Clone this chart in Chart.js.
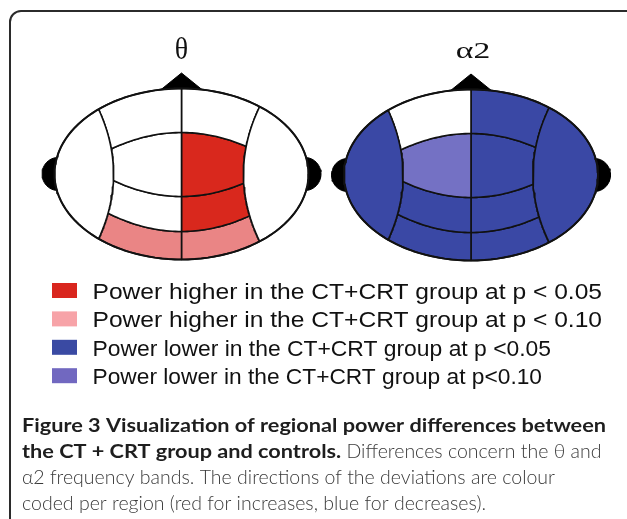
<!DOCTYPE html>
<html>
<head>
<meta charset="utf-8">
<script src="https://cdn.jsdelivr.net/npm/chart.js@4.4.1/dist/chart.umd.min.js"></script>
<style>
html, body { margin: 0; padding: 0; background: #fff; }
#wrap { width: 627px; height: 519px; }
</style>
</head>
<body>
<div id="wrap"><canvas id="fig" width="627" height="519"></canvas></div>
<script>
// scalp regions, left hemisphere first
const regions = ['L temporal', 'L frontal', 'L central', 'L parietal', 'L occipital',
                 'R temporal', 'R frontal', 'R central', 'R parietal', 'R occipital'];
// 2 = higher p<0.05, 1 = higher p<0.10, -2 = lower p<0.05, -1 = lower p<0.10, 0 = n.s.
const thetaLevels  = [0, 0, 0, 0, 1, 0, 0, 2, 2, 1];
const alpha2Levels = [-2, 0, -1, -2, -2, -2, -2, -2, -2, -2];
const bandTitles = ['θ', 'α2'];
const legendLabels = [
    'Power higher in the CT+CRT group at p < 0.05',
    'Power higher in the CT+CRT group at p < 0.10',
    'Power lower in the CT+CRT group at p <0.05',
    'Power lower in the CT+CRT group at p<0.10'
];
const legendSwatches = ['#d9261e', '#f7a3a8', '#3a4aa3', '#7168c0'];
const captionLines = [
    [{ t: 'Figure 3 Visualization of regional power differences between', b: true }],
    [{ t: 'the CT + CRT group and controls.', b: true }, { t: ' Differences concern the θ and', b: false }],
    [{ t: 'α2 frequency bands. The directions of the deviations are colour', b: false }],
    [{ t: 'coded per region (red for increases, blue for decreases).', b: false }]
];

const levelColors = { '2': '#d9281d', '1': '#ea8585', '0': '#ffffff', '-1': '#7471c4', '-2': '#3a48a5' };

// head outline geometry (canvas px, y down)
const A = 127, B = 85.5;
const heads = [{ cx: 181.5, cy: 174 }, { cx: 471, cy: 175 }];

function lateral(side, dy) {
    return side * ((side < 0 ? 68 : 62) + 15 * (dy / 65) ** 2);
}
const curves = {
    top: dx => -B * Math.sqrt(Math.max(0, 1 - (dx / A) ** 2)),
    arc1: dx => -41.5 + 14.5 * (dx / 66) ** 2,
    arc2: dx => 22.5 - 15 * (dx / 66) ** 2,
    arc3: dx => 57.5 - 16.5 * (dx / 70) ** 2,
    bottom: dx => B * Math.sqrt(Math.max(0, 1 - (dx / A) ** 2))
};
function meet(curve, side) {
    let dx = side * 70;
    for (let i = 0; i < 60; i++) dx = lateral(side, curve(dx));
    return dx;
}
function columnShape(h, side, upper, lower) {
    const pts = [], n = 24;
    const xu = meet(upper, side), xl = meet(lower, side);
    for (let i = 0; i <= n; i++) { const dx = xu * (1 - i / n); pts.push({ x: h.cx + dx, y: h.cy + upper(dx) }); }
    for (let i = 0; i <= n; i++) { const dx = xl * i / n; pts.push({ x: h.cx + dx, y: h.cy + lower(dx) }); }
    const y0 = lower(xl), y1 = upper(xu);
    for (let i = 0; i <= n; i++) { const dy = y0 + (y1 - y0) * i / n; pts.push({ x: h.cx + lateral(side, dy), y: h.cy + dy }); }
    return pts;
}
function sideShape(h, side) {
    const xt = meet(curves.top, side), xb = meet(curves.bottom, side);
    const yt = curves.top(xt), yb = curves.bottom(xb);
    const pts = [], n = 30;
    for (let i = 0; i <= n; i++) { const dy = yt + (yb - yt) * i / n; pts.push({ x: h.cx + lateral(side, dy), y: h.cy + dy }); }
    const tb = Math.atan2(yb / B, xb / A);
    let tt = Math.atan2(yt / B, xt / A);
    if (side < 0) tt += 2 * Math.PI;
    for (let i = 0; i <= 60; i++) {
        const t = tb + (tt - tb) * i / 60;
        pts.push({ x: h.cx + A * Math.cos(t), y: h.cy + B * Math.sin(t) });
    }
    return pts;
}
function regionShape(h, i) {
    const side = i < 5 ? -1 : 1;
    const k = i % 5;
    if (k === 0) return sideShape(h, side);
    const bands = [null, ['top', 'arc1'], ['arc1', 'arc2'], ['arc2', 'arc3'], ['arc3', 'bottom']];
    return columnShape(h, side, curves[bands[k][0]], curves[bands[k][1]]);
}
function ellipsePts(cx, cy, rx, ry, n) {
    const pts = [];
    for (let i = 0; i <= n; i++) {
        const t = 2 * Math.PI * i / n;
        pts.push({ x: cx + rx * Math.cos(t), y: cy + ry * Math.sin(t) });
    }
    return pts;
}
function closed(pts) { return pts.concat([pts[0]]); }

const datasets = [];
[thetaLevels, alpha2Levels].forEach((levels, hi) => {
    const h = heads[hi];
    // nose and ears, behind the head
    datasets.push({
        label: 'nose', order: 3, fill: 'shape', backgroundColor: '#000', borderColor: '#000', borderWidth: 1,
        data: closed([{ x: h.cx - 21, y: h.cy - B + 1.5 }, { x: h.cx, y: h.cy - B - 15.5 }, { x: h.cx + 21, y: h.cy - B + 1.5 }])
    });
    [-1, 1].forEach(side => {
        datasets.push({
            label: 'ear', order: 3, fill: 'shape', backgroundColor: '#000', borderColor: '#000', borderWidth: 1,
            data: ellipsePts(h.cx + side * (A - 3.5), h.cy, 16, 16.5, 48)
        });
    });
    regions.forEach((name, i) => {
        datasets.push({
            label: bandTitles[hi] + ' ' + name, order: 2, fill: 'shape',
            backgroundColor: levelColors[String(levels[i])],
            borderColor: '#111', borderWidth: 1.6,
            data: closed(regionShape(h, i))
        });
    });
    datasets.push({
        label: 'outline', order: 1, fill: false, borderColor: '#111', borderWidth: 2,
        data: ellipsePts(h.cx, h.cy, A, B, 120)
    });
});

function stretchText(ctx, text, x, y, sx) {
    ctx.save();
    ctx.translate(x, y);
    ctx.scale(sx, 1);
    ctx.fillText(text, 0, 0);
    ctx.restore();
}

const framePlugin = {
    id: 'frame',
    beforeDraw(chart) {
        const ctx = chart.ctx, r = 11;
        ctx.save();
        ctx.fillStyle = '#fff';
        ctx.fillRect(0, 0, chart.width, chart.height);
        ctx.strokeStyle = '#2b2b2b';
        ctx.lineWidth = 2;
        ctx.beginPath();
        ctx.moveTo(10, chart.height);
        ctx.lineTo(10, 11 + r);
        ctx.arcTo(10, 11, 10 + r, 11, r);
        ctx.lineTo(chart.width, 11);
        ctx.stroke();
        ctx.restore();
    }
};

// right edges of the legend rows and caption lines in the figure
const legendRight = [602, 602, 551, 542];
const captionBoldWidth = 584, captionRegWidth = 533;

const textPlugin = {
    id: 'texts',
    afterDraw(chart) {
        const ctx = chart.ctx;
        ctx.save();
        ctx.textBaseline = 'alphabetic';
        ctx.fillStyle = '#111';
        // band titles
        ctx.textAlign = 'center';
        ctx.font = '31px "Liberation Serif"';
        stretchText(ctx, bandTitles[0], heads[0].cx, 59, 0.9);
        ctx.font = '24px "Liberation Serif"';
        stretchText(ctx, bandTitles[1], heads[1].cx + 2, 57.5, 1.4);

        // legend
        ctx.textAlign = 'left';
        ctx.font = '22px "Liberation Sans"';
        const lx = 92.5;
        legendLabels.forEach((lab, i) => {
            const base = 299 + i * 28.4;
            ctx.fillStyle = legendSwatches[i];
            ctx.fillRect(52, base - 16, 25, 15);
            ctx.fillStyle = '#111';
            const sx = (legendRight[i] - lx) / ctx.measureText(lab).width;
            stretchText(ctx, lab, lx, base, sx);
        });

        // caption
        const bold = 'bold 19px Lato', reg = '300 19px Lato';
        ctx.font = bold;
        const bsx = captionBoldWidth / ctx.measureText(captionLines[0][0].t).width;
        ctx.font = reg;
        const rsx = captionRegWidth / ctx.measureText(captionLines[2][0].t).width;
        captionLines.forEach((line, li) => {
            let x = 22;
            const y = 431.5 + li * 26;
            line.forEach(seg => {
                ctx.font = seg.b ? bold : reg;
                ctx.fillStyle = seg.b ? '#1e1e1e' : '#3a3a3a';
                const sx = seg.b ? bsx : rsx;
                stretchText(ctx, seg.t, x, y, sx);
                x += ctx.measureText(seg.t).width * sx;
            });
        });
        ctx.restore();
    }
};

new Chart(document.getElementById('fig'), {
    type: 'line',
    data: { datasets: datasets },
    options: {
        responsive: false,
        animation: false,
        devicePixelRatio: 1,
        events: [],
        layout: { padding: 0 },
        scales: {
            x: { type: 'linear', min: 0, max: 627, display: false },
            y: { type: 'linear', min: 0, max: 519, reverse: true, display: false }
        },
        elements: {
            point: { radius: 0 },
            line: { tension: 0, borderJoinStyle: 'round' }
        },
        plugins: {
            legend: { display: false },
            tooltip: { enabled: false }
        }
    },
    plugins: [framePlugin, textPlugin]
});
</script>
</body>
</html>
